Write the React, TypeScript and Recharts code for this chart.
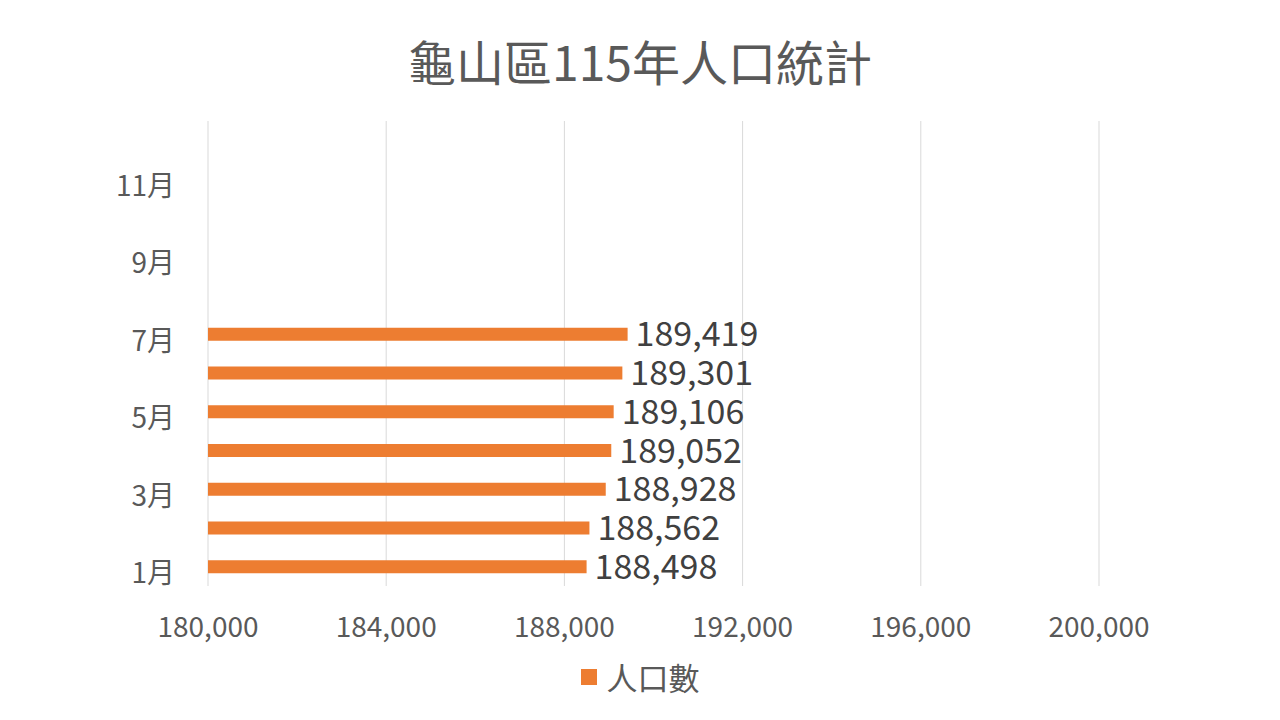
import React from 'react';
import {
  BarChart,
  Bar,
  XAxis,
  YAxis,
  CartesianGrid,
  Legend,
  LabelList,
} from 'recharts';

const months = ['1月', '2月', '3月', '4月', '5月', '6月', '7月', '8月', '9月', '10月', '11月', '12月'];
const population: (number | null)[] = [188498, 188562, 188928, 189052, 189106, 189301, 189419, null, null, null, null, null];
const xTicks = [180000, 184000, 188000, 192000, 196000, 200000];

const data = months.map((m, i) => ({ month: m, 人口數: population[i] }));

const FONT = '"Noto Sans CJK TC", "Noto Sans", sans-serif';
const fmt = (v: number) => v.toLocaleString('en-US');

function MonthTick(props: any) {
  const { x, y, payload } = props;
  return (
    <text x={x} y={y + 7} dy="0.35em" textAnchor="end" fontSize={28} fill="#595959" fontFamily={FONT}>
      {payload.value}
    </text>
  );
}

function LegendContent() {
  return (
    <div style={{ display: 'flex', justifyContent: 'center', alignItems: 'center', fontFamily: FONT }}>
      <span style={{ width: 16, height: 16, background: '#ed7d31', marginRight: 10 }} />
      <span style={{ fontSize: 31, color: '#595959' }}>人口數</span>
    </div>
  );
}

export default function App() {
  return (
    <div style={{ position: 'absolute', left: 0, top: 0, width: 1280, height: 720, background: '#fff', fontFamily: FONT }}>
      <div
        style={{
          position: 'absolute',
          top: 28,
          left: 0,
          width: 1280,
          textAlign: 'center',
          fontSize: 48,
          color: '#595959',
          lineHeight: '64px',
        }}
      >
        龜山區115年人口統計
      </div>
      <BarChart
        width={1280}
        height={720}
        data={data}
        layout="vertical"
        margin={{ top: 121, right: 181, left: 128, bottom: 26 }}
      >
        <CartesianGrid horizontal={false} stroke="#d9d9d9" />
        <XAxis
          type="number"
          domain={[180000, 200000]}
          ticks={xTicks}
          tickFormatter={fmt}
          axisLine={false}
          tickLine={false}
          tickSize={0}
          tickMargin={31}
          height={68}
          tick={{ fontSize: 28, fill: '#595959', fontFamily: FONT }}
        />
        <YAxis
          type="category"
          dataKey="month"
          reversed
          interval={1}
          width={80}
          axisLine={false}
          tickLine={false}
          tickSize={0}
          tickMargin={33}
          tick={<MonthTick />}
        />
        <Legend
          verticalAlign="bottom"
          height={40}
          wrapperStyle={{ left: 0, width: 1280 }}
          content={<LegendContent />}
        />
        <Bar dataKey="人口數" fill="#ed7d31" barSize={13} isAnimationActive={false}>
          <LabelList
            dataKey="人口數"
            position="right"
            offset={8}
            formatter={(v: any) => (v == null ? '' : fmt(v))}
            style={{ fontSize: 34, fill: '#404040', fontFamily: FONT }}
          />
        </Bar>
      </BarChart>
    </div>
  );
}
